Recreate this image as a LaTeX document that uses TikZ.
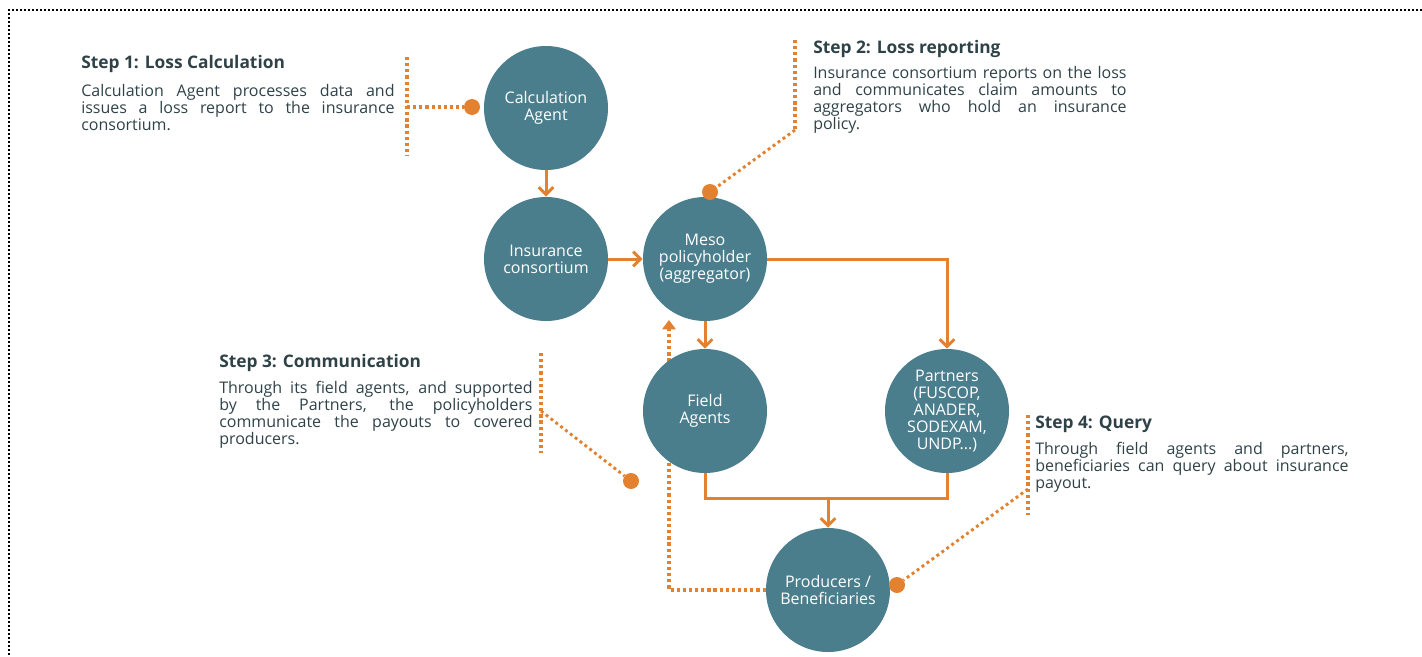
\documentclass[tikz,border=0pt]{standalone}
\usepackage{fontspec}
\setmainfont{Open Sans}
\usetikzlibrary{arrows.meta,backgrounds}

\definecolor{circfill}{RGB}{75,126,141}
\definecolor{orng}{RGB}{226,130,48}
\definecolor{txtdark}{RGB}{47,66,72}

\tikzset{
  party/.style={circle, fill=circfill, minimum size=93pt, inner sep=0pt,
    text=white, align=center, font=\fontsize{12}{12.75}\selectfont},
  stephead/.style={anchor=base west, inner sep=0pt, text=txtdark,
    font=\fontsize{13}{14}\selectfont\bfseries},
  stepbody/.style={anchor=north west, inner sep=0pt, text=txtdark, text width=235pt,
    align=justify, font=\fontsize{12}{12.75}\selectfont},
  flow/.style={orng, line width=2.25pt, -{Straight Barb[length=5.5pt,width=11pt,line width=2.25pt]}},
  leader/.style={orng, line width=2.4pt, dash pattern=on 2.4pt off 2.2pt},
  slant/.style={orng, line width=2.2pt, dash pattern=on 2.2pt off 2.4pt},
  dot/.style={circle, fill=orng, minimum size=12pt, inner sep=0pt}
}

\begin{document}
\hyphenpenalty=10000
\begin{tikzpicture}[x=0.75pt,y=-0.75pt]
\useasboundingbox (0,0) rectangle (1422,657);

% frame
\draw[line width=1.1pt, dash pattern=on 1.5pt off 1.5pt] (1422,10)--(9,10)--(9,657);

% circles
\node[party] (calc) at (546,108) {Calculation\\Agent};
\node[party] (ins) at (546,259) {Insurance\\consortium};
\node[party] (meso) at (705,259) {Meso\\policyholder\\(aggregator)};
\node[party] (field) at (705,411) {Field\\Agents};
\node[party] (part) at (947,411) {Partners\\(FUSCOP,\\ANADER,\\SODEXAM,\\UNDP...)};
\node[party] (prod) at (828,590) {Producers /\\Beneficiaries};

% flows
\draw[flow] (calc)--(ins);
\draw[flow] (ins)--(meso);
\draw[flow] (meso)--(field);
\draw[flow] (meso.east) -| (part.north);
\coordinate (join) at (828,498);
\draw[orng, line width=2.25pt] (field.south) |- (join) -| (part.south);
\draw[flow] (join)--(prod);

% feedback
\coordinate (back) at (669,320);
\begin{scope}[on background layer]
\draw[leader, -{Triangle[length=7pt,width=10pt]}] (prod.west) -| (back);
\end{scope}

% step 1
\node[stephead] (s1h) at (81,68) {Step 1: Loss Calculation};
\node[stepbody] (s1b) at (81,84) {Calculation Agent processes data and\linebreak issues a loss report to the insurance\linebreak consortium.};
\coordinate (s1t) at (407,57);
\coordinate (s1m) at (407,107);
\coordinate (s1e) at (407,156);
\node[dot] (d1) at (472,107) {};
\draw[leader] (s1t)--(s1e);
\draw[leader] (s1m)--(d1);

% step 2
\node[stephead] (s2h) at (813,53) {Step 2: Loss reporting};
\node[stepbody] (s2b) at (813,66) {Insurance consortium reports on the loss\linebreak and communicates claim amounts to\linebreak aggregators who hold an insurance\linebreak policy.};
\coordinate (s2t) at (795,40);
\coordinate (s2e) at (795,130);
\node[dot] (d2) at (710,192) {};
\draw[leader] (s2t)--(s2e);
\draw[slant] (s2e)--(d2);

% step 3
\node[stephead] (s3h) at (219,367) {Step 3: Communication};
\node[stepbody] (s3b) at (219,381) {Through its field agents, and supported\linebreak by the Partners, the policyholders\linebreak communicate the payouts to covered\linebreak producers.};
\coordinate (s3t) at (541,353);
\coordinate (s3m) at (541,411);
\coordinate (s3e) at (541,453);
\node[dot] (d3) at (631,481) {};
\draw[leader] (s3t)--(s3e);
\draw[slant] (s3m)--(d3);

% step 4
\node[stephead] (s4h) at (1035,428) {Step 4: Query};
\node[stepbody] (s4b) at (1035,442) {Through field agents and partners,\linebreak beneficiaries can query about insurance\linebreak payout.};
\coordinate (s4t) at (1028,415);
\coordinate (s4m) at (1028,489);
\coordinate (s4e) at (1028,515);
\node[dot] (d4) at (897,585) {};
\draw[leader] (s4t)--(s4e);
\draw[slant] (s4m)--(d4);
\end{tikzpicture}
\end{document}
